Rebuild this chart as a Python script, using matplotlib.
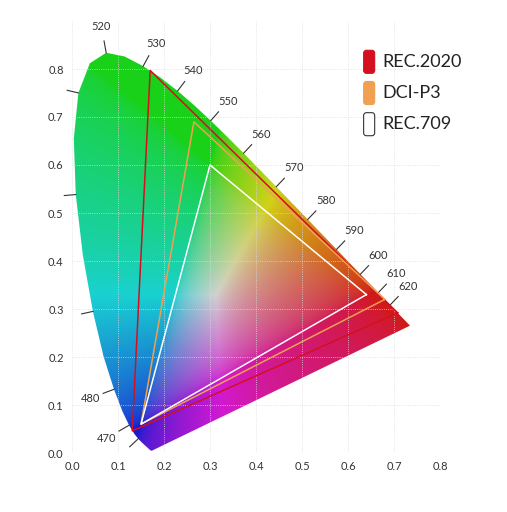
import numpy as np
import matplotlib
matplotlib.use("Agg")
import matplotlib.pyplot as plt
from matplotlib.path import Path
from matplotlib.patches import PathPatch, FancyBboxPatch

plt.rcParams['font.family'] = ['Lato', 'DejaVu Sans']

# CIE 1931 spectral locus (nm, x, y)
wl = [380, 400, 420, 430, 440, 450, 455, 460, 465, 470, 475, 480, 485, 490, 495, 500, 505, 510,
      515, 520, 525, 530, 535, 540, 545, 550, 555, 560, 565, 570, 575, 580, 585, 590, 595,
      600, 605, 610, 615, 620, 625, 630, 640, 650, 660, 680, 700]
lx = [0.1741, 0.1733, 0.1714, 0.1689, 0.1644, 0.1566, 0.1510, 0.1440, 0.1355, 0.1241, 0.1096,
      0.0913, 0.0687, 0.0454, 0.0235, 0.0082, 0.0039, 0.0139, 0.0389, 0.0743, 0.1142, 0.1547,
      0.1929, 0.2296, 0.2658, 0.3016, 0.3373, 0.3731, 0.4087, 0.4441, 0.4788, 0.5125, 0.5448,
      0.5752, 0.6029, 0.6270, 0.6482, 0.6658, 0.6801, 0.6915, 0.7006, 0.7079, 0.7190, 0.7260,
      0.7300, 0.7334, 0.7347]
ly = [0.0050, 0.0048, 0.0051, 0.0069, 0.0109, 0.0177, 0.0227, 0.0297, 0.0399, 0.0578, 0.0868,
      0.1327, 0.2007, 0.2950, 0.4127, 0.5384, 0.6548, 0.7502, 0.8120, 0.8338, 0.8262, 0.8059,
      0.7816, 0.7543, 0.7243, 0.6923, 0.6589, 0.6245, 0.5896, 0.5547, 0.5202, 0.4866, 0.4544,
      0.4242, 0.3965, 0.3725, 0.3514, 0.3340, 0.3197, 0.3083, 0.2993, 0.2920, 0.2809, 0.2740,
      0.2700, 0.2666, 0.2653]
tick_wl = [460, 470, 480, 490, 500, 510, 520, 530, 540, 550, 560, 570, 580, 590, 600, 610, 620]
label_wl = [470, 480, 520, 530, 540, 550, 560, 570, 580, 590, 600, 610, 620]

gamuts = {
    "REC.2020": ([0.708, 0.170, 0.131], [0.292, 0.797, 0.046], "#d4101e"),
    "DCI-P3": ([0.680, 0.265, 0.150], [0.320, 0.690, 0.060], "#f0a050"),
    "REC.709": ([0.640, 0.300, 0.150], [0.330, 0.600, 0.060], "white"),
}

fig = plt.figure(figsize=(5.07, 5.12), dpi=100)
ax = fig.add_axes([72 / 507, 59 / 512, 368 / 507, 432 / 512])
ax.set_xlim(0, 0.8)
ax.set_ylim(0, 0.9)

# colour fill
n = 400
gx, gy = np.meshgrid(np.linspace(0, 0.8, n), np.linspace(0, 0.9, n))
gy_s = np.maximum(gy, 1e-4)
X = gx / gy_s
Z = (1 - gx - gy) / gy_s
Y = np.ones_like(X)
M = np.array([[3.2406, -1.5372, -0.4986], [-0.9689, 1.8758, 0.0415], [0.0557, -0.2040, 1.0570]])
rgb = np.einsum('ij,jkl->kli', M, np.array([X, Y, Z]))
rgb = np.clip(rgb, 0, None)
rgb = rgb / np.max(rgb, axis=2, keepdims=True).clip(1e-6)
rgb = rgb ** (1 / 2.0)
rgb = (0.12 + 0.88 * rgb) * 0.82
rgb = np.clip(rgb, 0, 1)
img = ax.imshow(rgb, origin='lower', extent=[0, 0.8, 0, 0.9], aspect='auto', interpolation='bilinear')
poly = Path(np.column_stack([lx + [lx[0]], ly + [ly[0]]]), closed=True)
patch = PathPatch(poly, facecolor='none', edgecolor='none', transform=ax.transData)
ax.add_patch(patch)
img.set_clip_path(patch)

# wavelength ticks (outward normals)
for w in tick_wl:
    x0, y0 = np.interp(w, wl, lx), np.interp(w, wl, ly)
    dx = np.interp(w + 1, wl, lx) - np.interp(w - 1, wl, lx)
    dy = np.interp(w + 1, wl, ly) - np.interp(w - 1, wl, ly)
    nx, ny = -dy, dx
    L = np.hypot(nx, ny)
    nx, ny = nx / L, ny / L
    ax.plot([x0, x0 + 0.025 * nx], [y0, y0 + 0.025 * ny], color='#333333', lw=0.8, clip_on=False)
    if w in label_wl:
        ax.text(x0 + 0.055 * nx, y0 + 0.055 * ny, str(w), fontsize=8, ha='center', va='center',
                color='#333333')

for name, (tx, ty, c) in gamuts.items():
    ax.plot(tx + [tx[0]], ty + [ty[0]], color=c, lw=1.1)

# legend
for i, (name, (tx, ty, c)) in enumerate(gamuts.items()):
    yy = 0.815 - i * 0.065
    ax.add_patch(FancyBboxPatch((0.64, yy - 0.018), 0.012, 0.036, boxstyle="round,pad=0.006",
                                facecolor=c, edgecolor='#333333' if c == 'white' else c, lw=0.8))
    ax.text(0.675, yy, name, fontsize=13, va='center', color='#222222')

ax.set_xticks(np.arange(0, 0.81, 0.1))
ax.set_yticks(np.arange(0, 0.81, 0.1))
ax.set_xticklabels([f"{v:.1f}" for v in np.arange(0, 0.81, 0.1)])
ax.set_yticklabels([f"{v:.1f}" for v in np.arange(0, 0.81, 0.1)])
ax.tick_params(length=0, labelsize=8, colors='#333333', pad=6)
ax.grid(color='#dddddd', lw=0.6, ls=':')
ax.set_axisbelow(True)
for s in ax.spines.values():
    s.set_visible(False)

fig.savefig("out.png", dpi=100)
